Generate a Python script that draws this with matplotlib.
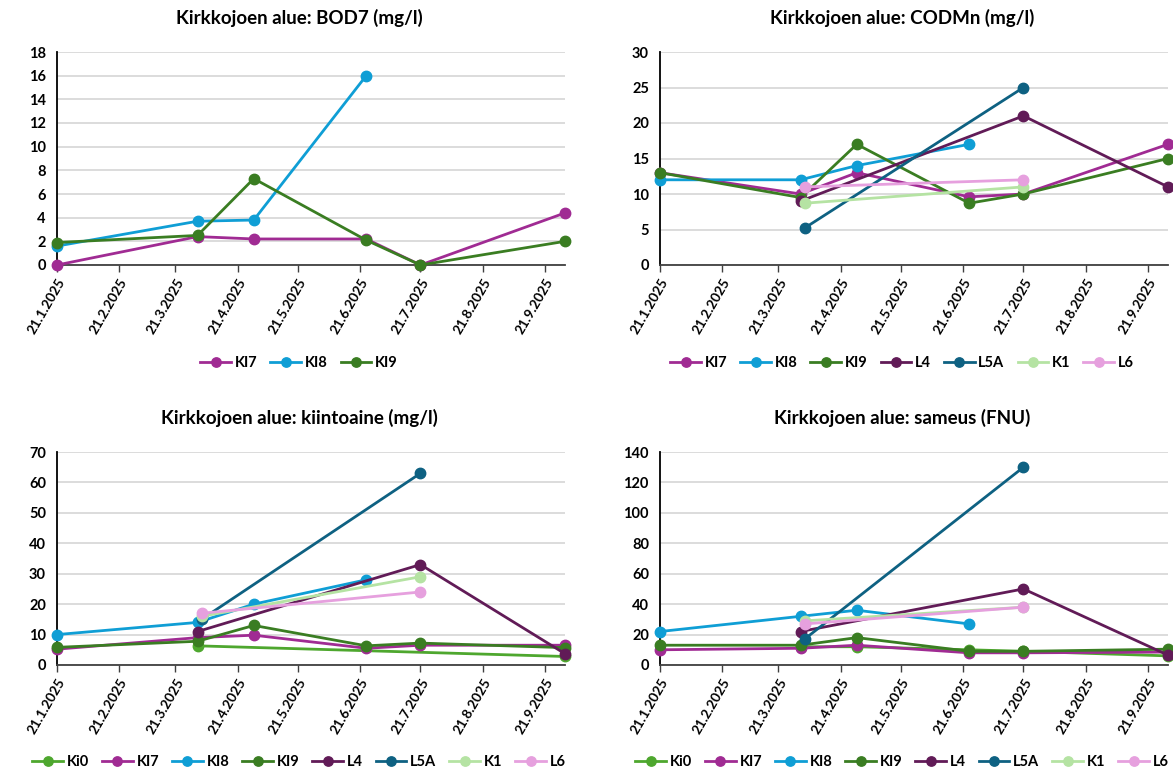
import datetime as dt
import matplotlib
matplotlib.use("Agg")
import matplotlib.pyplot as plt
import matplotlib.dates as mdates
from matplotlib.ticker import FuncFormatter

plt.rcParams['font.family'] = ['Lato', 'DejaVu Sans']
plt.rcParams['font.weight'] = 'bold'

# sampling dates (two of them only 2 days apart)
dates = ["2025-01-21", "2025-04-01", "2025-04-03", "2025-04-29",
         "2025-06-24", "2025-07-21", "2025-10-01"]
tick_dates = ["2025-01-21", "2025-02-21", "2025-03-21", "2025-04-21", "2025-05-21",
              "2025-06-21", "2025-07-21", "2025-08-21", "2025-09-21"]

colors = {
    "Ki0": "#4ea72e", "KI7": "#a02b93", "KI8": "#0f9ed5", "KI9": "#3a7d22",
    "L4": "#611b57", "L5A": "#0e6182", "K1": "#b5e3a3", "L6": "#e6a0de",
}

# BOD7 (mg/l)
bod_KI7 = [0, 2.4, None, 2.2, 2.2, 0, 4.4]
bod_KI8 = [1.6, 3.7, None, 3.8, 16, None, None]
bod_KI9 = [1.9, 2.5, None, 7.3, 2.1, 0, 2.0]

# CODMn (mg/l)
cod_KI7 = [13, 10, None, 13, 9.6, 10, 17]
cod_KI8 = [12, 12, None, 14, 17, None, None]
cod_KI9 = [13, 9.5, None, 17, 8.7, 10, 15]
cod_L4 = [None, 9.0, None, None, None, 21, 11]
cod_L5A = [None, None, 5.2, None, None, 25, None]
cod_K1 = [None, None, 8.7, None, None, 11, None]
cod_L6 = [None, None, 11, None, None, 12, None]

# kiintoaine (mg/l)
kii_Ki0 = [None, 6.3, None, None, None, None, 2.8]
kii_KI7 = [5.2, 9.0, None, 9.8, 5.5, 6.5, 6.5]
kii_KI8 = [10, 14, None, 20, 28, None, None]
kii_KI9 = [5.8, 7.8, None, 13, 6.3, 7.2, 5.7]
kii_L4 = [None, 11, None, None, None, 33, 3.7]
kii_L5A = [None, None, 15, None, None, 63, None]
kii_K1 = [None, None, 16, None, None, 29, None]
kii_L6 = [None, None, 17, None, None, 24, None]

# sameus (FNU)
sam_Ki0 = [None, 12, None, 12, 10, 9, 6]
sam_KI7 = [10, 11, None, 13, 8, 8, 8.5]
sam_KI8 = [22, 32, None, 36, 27, None, None]
sam_KI9 = [13, 13, None, 18, 9, 9, 10.4]
sam_L4 = [None, 22, None, None, None, 50, 6.5]
sam_L5A = [None, None, 17, None, None, 130, None]
sam_K1 = [None, None, 29, None, None, 38, None]
sam_L6 = [None, None, 27, None, None, 38, None]

W, H = 1173, 773


def to_date(s):
    return dt.datetime.strptime(s, "%Y-%m-%d")


def draw_panel(rect, title, series, ymax, ystep, legend_y):
    l, t, r, b = rect
    ax = fig.add_axes([l / W, 1 - b / H, (r - l) / W, (b - t) / H])
    xs = [to_date(d) for d in dates]
    for name, vals in series:
        px = [x for x, v in zip(xs, vals) if v is not None]
        py = [v for v in vals if v is not None]
        ax.plot(px, py, color=colors[name], lw=2.0, marker='o', ms=7.5,
                label=name, clip_on=False, zorder=3)
    ax.set_xlim(to_date(dates[0]), to_date(dates[-1]))
    ax.set_ylim(0, ymax)
    ax.set_yticks(range(0, ymax + 1, ystep))
    ax.set_xticks([to_date(d) for d in tick_dates])
    ax.xaxis.set_major_formatter(FuncFormatter(
        lambda v, p: (lambda d: f"{d.day}.{d.month}.{d.year}")(mdates.num2date(v))))
    for lab in ax.get_xticklabels():
        lab.set_rotation(60)
        lab.set_ha('right')
        lab.set_rotation_mode('anchor')
    ax.tick_params(axis='x', length=5, width=1, color='#404040', labelsize=9.8, pad=3)
    ax.tick_params(axis='y', length=0, labelsize=10.5, pad=8)
    ax.grid(axis='y', color='#d9d9d9', lw=1.3)
    ax.set_axisbelow(True)
    for s in ('top', 'right'):
        ax.spines[s].set_visible(False)
    ax.spines['left'].set_color('#000000')
    ax.spines['left'].set_linewidth(1.3)
    ax.spines['bottom'].set_color('#404040')
    ax.spines['bottom'].set_linewidth(1.3)
    cx = ((l + r) / 2 - 12) / W
    fig.text(cx, 1 - (t - 34) / H, title, ha='center', va='center',
             fontsize=13.5, fontweight='bold')
    fig.legend(*ax.get_legend_handles_labels(), loc='center',
               bbox_to_anchor=(cx, 1 - legend_y / H), ncol=len(series),
               frameon=False, fontsize=10.5, handlelength=2.1, handletextpad=0.25,
               columnspacing=0.9, markerscale=0.9, borderpad=0.2)
    return ax


fig = plt.figure(figsize=(W / 100, H / 100), dpi=100)

draw_panel((57, 52, 565, 265), "Kirkkojoen alue: BOD7 (mg/l)",
           [("KI7", bod_KI7), ("KI8", bod_KI8), ("KI9", bod_KI9)], 18, 2, 363)
draw_panel((660, 52, 1168, 265), "Kirkkojoen alue: CODMn (mg/l)",
           [("KI7", cod_KI7), ("KI8", cod_KI8), ("KI9", cod_KI9), ("L4", cod_L4),
            ("L5A", cod_L5A), ("K1", cod_K1), ("L6", cod_L6)], 30, 5, 363)
draw_panel((57, 452, 565, 665), "Kirkkojoen alue: kiintoaine (mg/l)",
           [("Ki0", kii_Ki0), ("KI7", kii_KI7), ("KI8", kii_KI8), ("KI9", kii_KI9),
            ("L4", kii_L4), ("L5A", kii_L5A), ("K1", kii_K1), ("L6", kii_L6)],
           70, 10, 762)
draw_panel((660, 452, 1168, 665), "Kirkkojoen alue: sameus (FNU)",
           [("Ki0", sam_Ki0), ("KI7", sam_KI7), ("KI8", sam_KI8), ("KI9", sam_KI9),
            ("L4", sam_L4), ("L5A", sam_L5A), ("K1", sam_K1), ("L6", sam_L6)],
           140, 20, 762)

fig.savefig("out.png", dpi=100)
